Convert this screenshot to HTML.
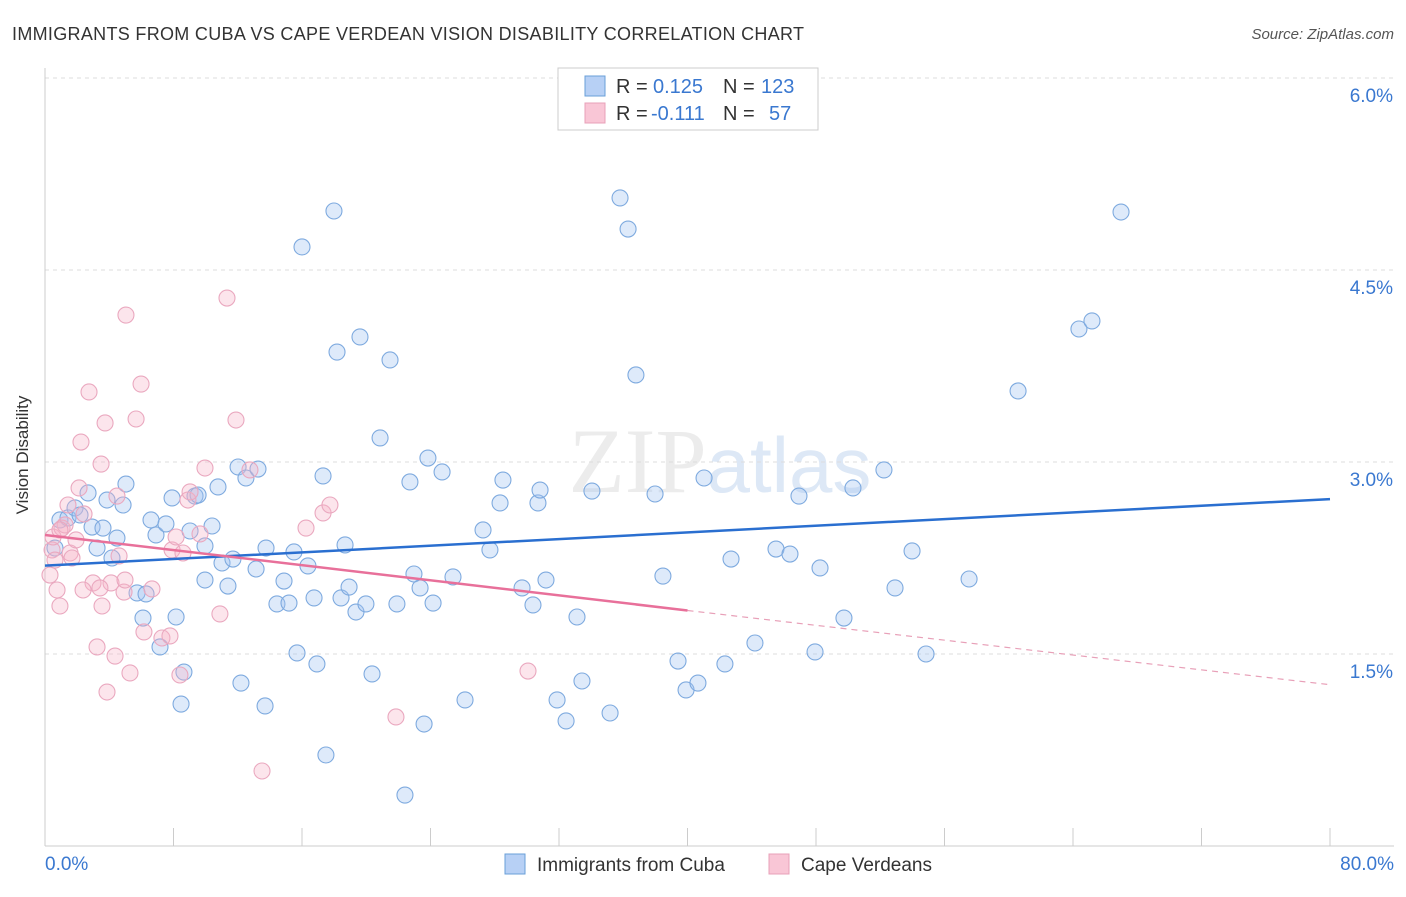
<!DOCTYPE html>
<html><head><meta charset="utf-8"><style>
body{margin:0;background:#fff;font-family:"Liberation Sans",sans-serif}
</style></head><body>
<svg width="1406" height="892" viewBox="0 0 1406 892" xmlns="http://www.w3.org/2000/svg">
<text x="12" y="40" font-size="18" fill="#333" textLength="792">IMMIGRANTS FROM CUBA VS CAPE VERDEAN VISION DISABILITY CORRELATION CHART</text>
<text x="1394" y="39" font-size="15" fill="#555" font-style="italic" text-anchor="end">Source: ZipAtlas.com</text>
<text x="720" y="492" font-size="92" fill="#ececec" text-anchor="middle" font-family="Liberation Serif,serif">ZIP<tspan fill="#dde8f6" font-family="Liberation Sans,sans-serif" font-size="78">atlas</tspan></text>
<g id="grid"></g><g id="axes"></g><g id="pts"></g><g id="lines"></g>
<text x="28" y="455" font-size="17" fill="#333" text-anchor="middle" transform="rotate(-90 28 455)">Vision Disability</text>
<g>
<rect x="558" y="68" width="260" height="62" fill="#fff" stroke="#ccc"/>
<rect x="585" y="76" width="20" height="20" fill="#b7d0f5" stroke="#6a9fd8"/>
<rect x="585" y="103" width="20" height="20" fill="#f9c6d6" stroke="#e8a0b8"/>
<text x="616" y="93" font-size="20" fill="#333">R = <tspan x="653" fill="#3a78d0">0.125</tspan><tspan x="723">N =</tspan><tspan x="761" fill="#3a78d0">123</tspan></text>
<text x="616" y="120" font-size="20" fill="#333">R = <tspan x="651" fill="#3a78d0">-0.111</tspan><tspan x="723">N =</tspan><tspan x="769" fill="#3a78d0">57</tspan></text>
</g>
<g>
<rect x="505" y="854" width="20" height="20" fill="#b7d0f5" stroke="#6a9fd8"/>
<text x="537" y="871" font-size="19" fill="#333">Immigrants from Cuba</text>
<rect x="769" y="854" width="20" height="20" fill="#f9c6d6" stroke="#e8a0b8"/>
<text x="801" y="871" font-size="19" fill="#333">Cape Verdeans</text>
</g>
</svg>
<script>
const yTicks=[1.5,3.0,4.5,6.0];
const yTickLabels=["1.5%","3.0%","4.5%","6.0%"];
const xTickLabels=["0.0%","80.0%"];
const bluePx=[[55,548],[60,520],[68,518],[75,508],[80,515],[88,493],[92,527],[97,548],[103,528],[107,500],[112,558],[117,538],[123,505],[126,484],[137,593],[143,618],[146,594],[151,520],[156,535],[160,647],[166,524],[172,498],[176,617],[181,704],[184,672],[190,531],[195,496],[198,495],[205,546],[205,580],[212,526],[218,487],[222,563],[228,586],[233,559],[238,467],[241,683],[246,478],[256,569],[258,469],[265,706],[266,548],[277,604],[284,581],[289,603],[294,552],[297,653],[302,247],[308,566],[314,598],[317,664],[323,476],[326,755],[334,211],[337,352],[341,598],[345,545],[349,587],[356,612],[360,337],[366,604],[372,674],[380,438],[390,360],[397,604],[405,795],[410,482],[414,574],[420,588],[424,724],[428,458],[433,603],[442,472],[453,577],[465,700],[483,530],[490,550],[500,503],[503,480],[522,588],[533,605],[538,503],[540,490],[546,580],[557,700],[566,721],[577,617],[582,681],[592,491],[610,713],[620,198],[628,229],[636,375],[655,494],[663,576],[678,661],[686,690],[698,683],[704,478],[725,664],[731,559],[755,643],[776,549],[790,554],[799,496],[815,652],[820,568],[844,618],[853,488],[884,470],[895,588],[912,551],[926,654],[969,579],[1018,391],[1079,329],[1092,321],[1121,212]];
const pinkPx=[[50,575],[52,550],[53,537],[55,560],[57,590],[60,606],[62,528],[65,525],[68,505],[70,553],[72,558],[76,540],[79,488],[81,442],[84,514],[89,392],[93,583],[97,647],[101,464],[102,606],[105,423],[107,692],[111,583],[115,656],[117,496],[119,556],[124,592],[125,580],[126,315],[130,673],[136,419],[141,384],[144,632],[152,589],[162,638],[170,636],[172,550],[176,537],[180,675],[183,553],[188,500],[190,492],[200,534],[205,468],[220,614],[227,298],[236,420],[250,470],[262,771],[306,528],[323,513],[330,505],[396,717],[528,671],[100,588],[60,530],[83,590]];
const cubaX=bluePx.map(p=>+((p[0]-45)*80/1285).toFixed(2));
const cubaY=bluePx.map(p=>+((846-p[1])*1.5/192).toFixed(3));
const capeX=pinkPx.map(p=>+((p[0]-45)*80/1285).toFixed(2));
const capeY=pinkPx.map(p=>+((846-p[1])*1.5/192).toFixed(3));
const cubaTrend=[[0,2.19],[80,2.71]];
const capeTrend=[[0,2.43],[40,1.84],[80,1.26]];
const X=v=>45+v*1285/80, Y=v=>846-v*192/1.5;
const NS="http://www.w3.org/2000/svg";
function mk(tag,attrs,parent){const e=document.createElementNS(NS,tag);for(const k in attrs)e.setAttribute(k,attrs[k]);document.getElementById(parent).appendChild(e);return e;}
yTicks.forEach((t,i)=>{
 const g=mk('line',{x1:45,x2:1394,y1:Y(t),y2:Y(t),stroke:'#ddd','stroke-dasharray':'4,4'},'grid');
 
 
 const l=mk('text',{x:1393,y:Y(t)+24,'font-size':19,fill:'#3a78d0','text-anchor':'end'},'axes');l.textContent=yTickLabels[i];
 
 
});
const ax=mk('line',{x1:45,x2:1394,y1:846,y2:846,stroke:'#ccc'},'axes');


const ay=mk('line',{x1:45,x2:45,y1:68,y2:846,stroke:'#ccc'},'axes');


for(let i=1;i<=10;i++){const t=mk('line',{x1:X(i*8),x2:X(i*8),y1:828,y2:846,stroke:'#ccc'},'axes');
 
 }
const xl0=mk('text',{x:45,y:870,'font-size':19,fill:'#3a78d0'},'axes');xl0.textContent=xTickLabels[0];


const xl1=mk('text',{x:1394,y:870,'font-size':19,fill:'#3a78d0','text-anchor':'end'},'axes');xl1.textContent=xTickLabels[1];


cubaX.forEach((v,i)=>{const c=mk('circle',{cx:X(v),cy:Y(cubaY[i]),r:8,fill:'rgba(160,196,240,0.35)',stroke:'#7eaadf','stroke-width':1.1},'pts');
 
 });
capeX.forEach((v,i)=>{const c=mk('circle',{cx:X(v),cy:Y(capeY[i]),r:8,fill:'rgba(245,180,200,0.35)',stroke:'#eaa8bf','stroke-width':1.1},'pts');
 
 });
const bl=mk('line',{x1:X(cubaTrend[0][0]),y1:Y(cubaTrend[0][1]),x2:X(cubaTrend[1][0]),y2:Y(cubaTrend[1][1]),stroke:'#2a6fd0','stroke-width':2.5},'lines');


const pl=mk('line',{x1:X(capeTrend[0][0]),y1:Y(capeTrend[0][1]),x2:X(capeTrend[1][0]),y2:Y(capeTrend[1][1]),stroke:'#e8709a','stroke-width':2.5},'lines');


const pd=mk('line',{x1:X(capeTrend[1][0]),y1:Y(capeTrend[1][1]),x2:X(capeTrend[2][0]),y2:Y(capeTrend[2][1]),stroke:'#e8a0b8','stroke-width':1.2,'stroke-dasharray':'6,5'},'lines');


</script>
</body></html>
